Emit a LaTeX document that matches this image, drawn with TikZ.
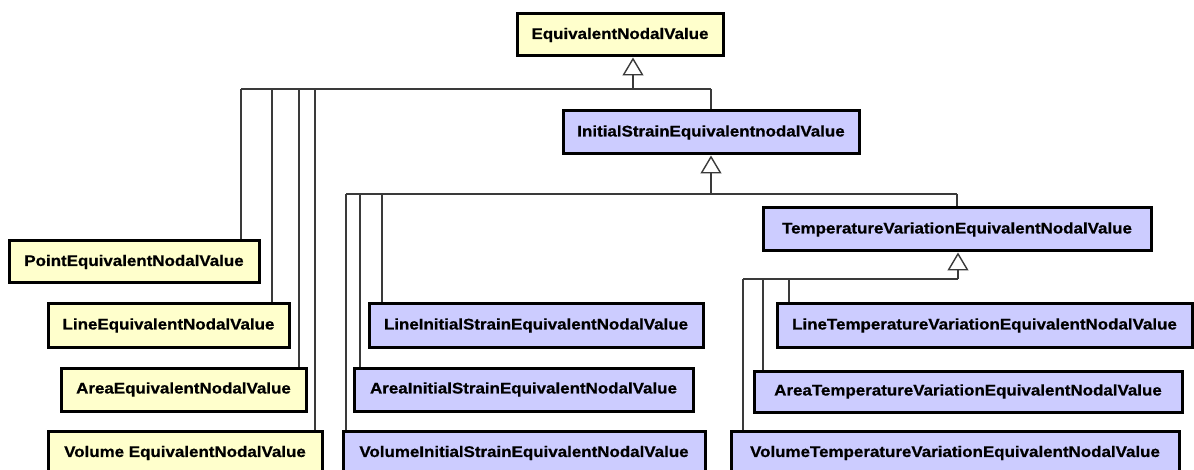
\documentclass[tikz,border=0pt]{standalone}
\usepackage{fontspec}
\setmainfont{Liberation Sans}
\newfontfamily\umlfont{Liberation Sans}[FakeStretch=1.1, BoldFeatures={FakeBold=0.8}]
\usetikzlibrary{arrows.meta}
\definecolor{classyellow}{HTML}{FFFFCC}
\definecolor{classblue}{HTML}{CCCCFF}
\definecolor{wire}{HTML}{3A3A3A}
\tikzset{
  cls/.style={draw=black, line width=3pt, inner sep=0pt,
    font=\umlfont\bfseries\fontsize{15.4}{18}\selectfont, text=black},
  yel/.style={cls, fill=classyellow},
  blu/.style={cls, fill=classblue},
  wirestyle/.style={draw=wire, line width=1.3pt},
  inherit/.style={wirestyle,
    -{Triangle[length=18pt,width=21pt,fill=white,line width=1.4pt]}},
}
\begin{document}
\begin{tikzpicture}[x=1pt,y=-1pt]
\clip (0,0) rectangle (1194,470);
\fill[white] (0,0) rectangle (1194,470);

% class boxes
\node[yel, minimum width=206pt, minimum height=42pt] (env) at (620,35) {EquivalentNodalValue};
\node[blu, minimum width=296pt, minimum height=43pt] (isv) at (711,132.5) {InitialStrainEquivalentnodalValue};
\node[blu, minimum width=388pt, minimum height=43pt] (tve) at (957,229.5) {TemperatureVariationEquivalentNodalValue};

\node[yel, minimum width=250pt, minimum height=42pt] (pt) at (134,262) {PointEquivalentNodalValue};
\node[yel, minimum width=241pt, minimum height=43pt] (ln) at (168.5,325.5) {LineEquivalentNodalValue};
\node[yel, minimum width=245pt, minimum height=43pt] (ar) at (183.5,389.5) {AreaEquivalentNodalValue};
\node[yel, minimum width=274pt, minimum height=44pt] (vo) at (185,453) {Volume EquivalentNodalValue};

\node[blu, minimum width=334pt, minimum height=43pt] (lis) at (536,325.5) {LineInitialStrainEquivalentNodalValue};
\node[blu, minimum width=339pt, minimum height=43pt] (ais) at (523.5,389.5) {AreaInitialStrainEquivalentNodalValue};
\node[blu, minimum width=362pt, minimum height=44pt] (vis) at (524,453) {VolumeInitialStrainEquivalentNodalValue};

\node[blu, minimum width=415pt, minimum height=43pt] (ltv) at (984.5,325.5) {LineTemperatureVariationEquivalentNodalValue};
\node[blu, minimum width=428pt, minimum height=41pt] (atv) at (968,391.5) {AreaTemperatureVariationEquivalentNodalValue};
\node[blu, minimum width=448pt, minimum height=44pt] (vtv) at (955,453) {VolumeTemperatureVariationEquivalentNodalValue};

% bus corners
\coordinate (s1) at (633,89);
\coordinate (a1) at (241,89);
\coordinate (a2) at (272,89);
\coordinate (a3) at (299,89);
\coordinate (a4) at (315,89);
\coordinate (a5) at (711,89);

\coordinate (s2) at (711,194);
\coordinate (b1) at (346,194);
\coordinate (b2) at (360,194);
\coordinate (b3) at (382,194);
\coordinate (b4) at (957,194);

\coordinate (s3) at (958,279);
\coordinate (c1) at (743,279);
\coordinate (c2) at (763,279);
\coordinate (c3) at (789,279);

% generalisations of EquivalentNodalValue
\draw[wirestyle] (a1) -- (a5);
\draw[wirestyle] (a1) -- (a1 |- pt.north);
\draw[wirestyle] (a2) -- (a2 |- ln.north);
\draw[wirestyle] (a3) -- (a3 |- ar.north);
\draw[wirestyle] (a4) -- (a4 |- vo.north);
\draw[wirestyle] (a5) -- (a5 |- isv.north);
\draw[inherit] (s1) -- (s1 |- env.south);

% generalisations of InitialStrainEquivalentnodalValue
\draw[wirestyle] (b1) -- (b4);
\draw[wirestyle] (b1) -- (b1 |- vis.north);
\draw[wirestyle] (b2) -- (b2 |- ais.north);
\draw[wirestyle] (b3) -- (b3 |- lis.north);
\draw[wirestyle] (b4) -- (b4 |- tve.north);
\draw[inherit] (s2) -- (s2 |- isv.south);

% generalisations of TemperatureVariationEquivalentNodalValue
\draw[wirestyle] (c1) -- (s3);
\draw[wirestyle] (c1) -- (c1 |- vtv.north);
\draw[wirestyle] (c2) -- (c2 |- atv.north);
\draw[wirestyle] (c3) -- (c3 |- ltv.north);
\draw[inherit] (s3) -- (s3 |- tve.south);
\end{tikzpicture}
\end{document}
